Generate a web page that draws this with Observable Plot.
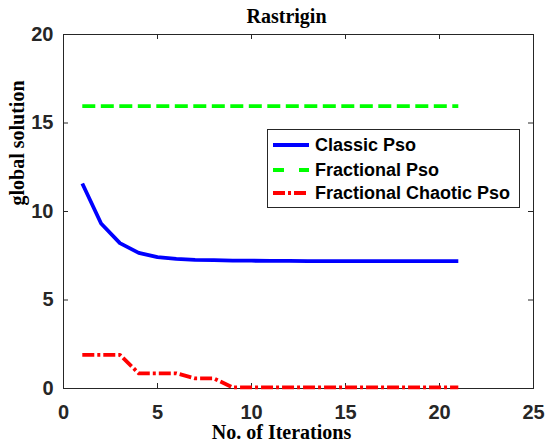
<!DOCTYPE html>
<html>
<head>
<meta charset="utf-8">
<script src="https://cdn.jsdelivr.net/npm/d3@7"></script>
<script src="https://cdn.jsdelivr.net/npm/@observablehq/plot@0.6"></script>
<style>
  html, body { margin: 0; padding: 0; background: white; }
  #wrap { position: relative; width: 545px; height: 441px; overflow: hidden; }
  #legend { position: absolute; left: 267px; top: 129px; }
</style>
</head>
<body>
<div id="wrap"></div>
<script>
const title = "Rastrigin";
const xLabel = "No. of Iterations";
const yLabel = "global solution";
const xTicks = [0, 5, 10, 15, 20, 25];
const yTicks = [0, 5, 10, 15, 20];
const iterations = [1,2,3,4,5,6,7,8,9,10,11,12,13,14,15,16,17,18,19,20,21];
const classicPso = [11.58, 9.32, 8.21, 7.66, 7.42, 7.32, 7.27, 7.25, 7.23, 7.22, 7.21, 7.21, 7.20, 7.20, 7.20, 7.20, 7.20, 7.20, 7.20, 7.20, 7.20];
const fractionalPso = [15.95, 15.95, 15.95, 15.95, 15.95, 15.95, 15.95, 15.95, 15.95, 15.95, 15.95, 15.95, 15.95, 15.95, 15.95, 15.95, 15.95, 15.95, 15.95, 15.95, 15.95];
const chaoticPso = [1.90, 1.90, 1.90, 0.86, 0.86, 0.86, 0.57, 0.57, 0.06, 0.06, 0.06, 0.06, 0.06, 0.06, 0.06, 0.06, 0.06, 0.06, 0.06, 0.06, 0.06];
const seriesNames = ["Classic Pso", "Fractional Pso", "Fractional Chaotic Pso"];
const seriesColors = ["#0000ff", "#00ff00", "#ff0000"];
const seriesDash = [null, "13,5.5", "12,3,3,3"];

const W = 545, H = 441, mL = 63, mR = 12, mT = 34, mB = 53;
const fw = W - mL - mR, fh = H - mT - mB;
const axisColor = "#262626";
const serif = "'Liberation Serif', 'Times New Roman', serif";
const sans = "'Liberation Sans', Arial, sans-serif";

const toRows = (vals) => iterations.map((x, i) => ({x, y: vals[i]}));
const allSeries = [classicPso, fractionalPso, chaoticPso];

const chart = Plot.plot({
  width: W, height: H,
  marginLeft: mL, marginRight: mR, marginTop: mT, marginBottom: mB,
  x: {domain: [0, 25]},
  y: {domain: [0, 20]},
  style: {background: "white", color: axisColor, fontFamily: sans, fontSize: "20px", fontWeight: "bold"},
  marks: [
    Plot.frame({stroke: axisColor, strokeWidth: 1}),
    Plot.ruleX(xTicks, {x: d => d, insetTop: fh - 5, stroke: axisColor}),
    Plot.ruleX(xTicks, {x: d => d, insetBottom: fh - 5, stroke: axisColor}),
    Plot.ruleY(yTicks, {y: d => d, insetRight: fw - 5, stroke: axisColor}),
    Plot.ruleY(yTicks, {y: d => d, insetLeft: fw - 5, stroke: axisColor}),
    Plot.axisX({ticks: xTicks, tickSize: 0, tickPadding: 16, label: null, fill: axisColor}),
    Plot.axisY({ticks: yTicks, tickSize: 0, tickPadding: 10, label: null, fill: axisColor}),
    ...allSeries.map((vals, i) => Plot.line(toRows(vals), {
      x: "x", y: "y", stroke: seriesColors[i], strokeWidth: 3.8,
      strokeDasharray: seriesDash[i], strokeLinecap: "butt", strokeLinejoin: "round"
    })),
    Plot.text([title], {text: d => d, frameAnchor: "top", dx: -12, dy: -12, lineAnchor: "bottom",
      fontFamily: serif, fontSize: 20, fontWeight: "bold", fill: "black"}),
    Plot.text([xLabel], {text: d => d, frameAnchor: "bottom", dx: -17, dy: 50, lineAnchor: "bottom",
      fontFamily: serif, fontSize: 20, fontWeight: "bold", fill: "black"}),
    Plot.text([yLabel], {text: d => d, frameAnchor: "left", dx: -46, dy: -6, rotate: -90, lineAnchor: "middle",
      fontFamily: serif, fontSize: 20, fontWeight: "bold", fill: "black"})
  ]
});

const wrap = document.getElementById("wrap");
wrap.appendChild(chart);

// Legend
const lw = 252, lh = 78;
const ns = "http://www.w3.org/2000/svg";
const leg = document.createElementNS(ns, "svg");
leg.setAttribute("id", "legend");
leg.setAttribute("width", lw + 1);
leg.setAttribute("height", lh + 1);
const rect = document.createElementNS(ns, "rect");
rect.setAttribute("x", 0.5); rect.setAttribute("y", 0.5);
rect.setAttribute("width", lw); rect.setAttribute("height", lh);
rect.setAttribute("fill", "white"); rect.setAttribute("stroke", axisColor);
leg.appendChild(rect);
const rowsY = [16, 41, 64];
const legDash = [null, "11,15", "12,3,3,3"];
seriesNames.forEach((name, i) => {
  const ln = document.createElementNS(ns, "line");
  ln.setAttribute("x1", 6); ln.setAttribute("x2", 42);
  ln.setAttribute("y1", rowsY[i]); ln.setAttribute("y2", rowsY[i]);
  ln.setAttribute("stroke", seriesColors[i]);
  ln.setAttribute("stroke-width", 3.8);
  if (legDash[i]) ln.setAttribute("stroke-dasharray", legDash[i]);
  leg.appendChild(ln);
  const t = document.createElementNS(ns, "text");
  t.setAttribute("x", 48); t.setAttribute("y", rowsY[i]);
  t.setAttribute("dy", "0.35em");
  t.setAttribute("font-family", sans);
  t.setAttribute("font-size", 18);
  t.setAttribute("font-weight", "bold");
  t.setAttribute("fill", "black");
  t.textContent = name;
  leg.appendChild(t);
});
wrap.appendChild(leg);
</script>
</body>
</html>
